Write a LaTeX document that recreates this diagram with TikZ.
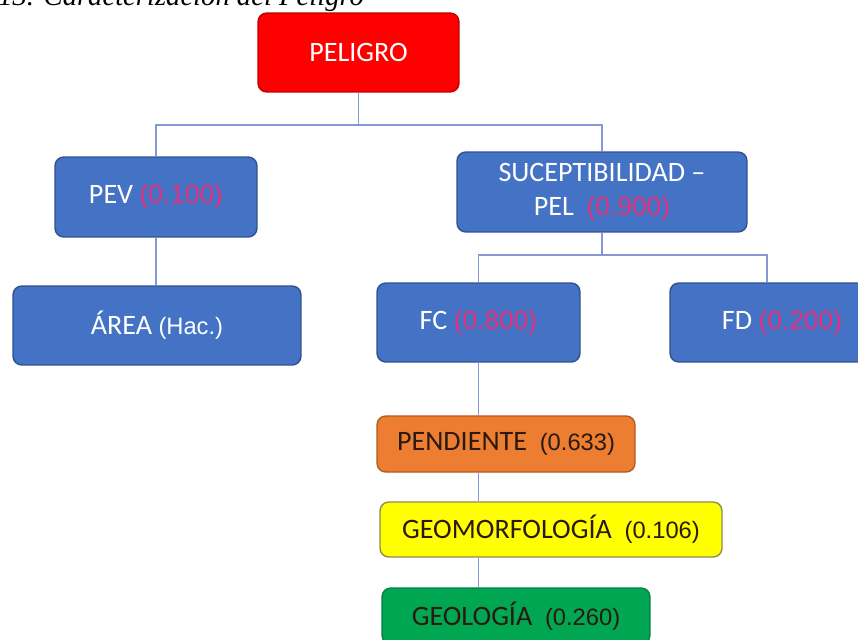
\documentclass[tikz,border=0pt]{standalone}
\usepackage{fontspec}
\setmainfont{Carlito}
\newfontfamily\numfont{Liberation Sans}
\newfontfamily\capfont{Liberation Serif}
\usetikzlibrary{calc}
\usepackage{xcolor}
\definecolor{rojo}{HTML}{FF0000}
\definecolor{rojoborde}{HTML}{C00000}
\definecolor{azul}{HTML}{4472C4}
\definecolor{azulborde}{HTML}{2F528F}
\definecolor{naranja}{HTML}{ED7D31}
\definecolor{naranjaborde}{HTML}{AE5A21}
\definecolor{amarillo}{HTML}{FFFF00}
\definecolor{amarilloborde}{HTML}{8C8C50}
\definecolor{verde}{HTML}{00A651}
\definecolor{verdeborde}{HTML}{00804A}
\definecolor{rosa}{HTML}{E0307A}
\definecolor{enlace}{HTML}{8497D6}
\definecolor{oscuro}{HTML}{2A1A10}
\newcommand{\peso}[1]{{\numfont\fontsize{15}{18}\selectfont\color{rosa}#1}}
\newcommand{\valor}[1]{{\numfont\fontsize{13.5}{16}\selectfont#1}}
\tikzset{
  caja/.style={rounded corners=5pt,inner sep=0pt,align=center,line width=0.8pt,
    font=\fontsize{16}{19}\selectfont},
  cajaazul/.style={caja,draw=azulborde,fill=azul,text=white},
  enlace/.style={draw=enlace,line width=1pt}
}
\begin{document}
\begin{tikzpicture}[x=0.02cm,y=-0.02cm]
\useasboundingbox (0,0) rectangle (858,639);
\fill[white] (0,0) rectangle (858,639);
\node[anchor=base west,inner sep=0pt,font=\capfont\itshape\fontsize{16.3}{19}\selectfont] (titulo) at (-2,6) {13. Caracterización del Peligro};
% nivel 1
\node[caja,draw=rojoborde,fill=rojo,text=white,minimum width=4.02cm,minimum height=1.58cm] (peligro) at (358.5,52.5) {PELIGRO};
% nivel 2
\node[cajaazul,minimum width=4.04cm,minimum height=1.6cm] (pev) at (156,197) {PEV \peso{(0.100)}};
\node[cajaazul,minimum width=5.8cm,minimum height=1.6cm] (susc) at (602,192) {SUCEPTIBILIDAD --\\PEL\ \ \peso{(0.900)}};
% nivel 3
\node[cajaazul,minimum width=5.76cm,minimum height=1.58cm] (area) at (157,325.5) {ÁREA \valor{(Hac.)}};
\node[cajaazul,minimum width=4.06cm,minimum height=1.58cm] (fc) at (478.5,322.5) {FC \peso{(0.800)}};
\node[cajaazul,minimum width=4.48cm,minimum height=1.58cm] (fd) at (782,322.5) {FD \peso{(0.200)}};
% descriptores
\node[caja,draw=naranjaborde,fill=naranja,text=oscuro,minimum width=5.16cm,minimum height=1.12cm] (pend) at (506,444) {PENDIENTE\ \ \valor{(0.633)}};
\node[caja,draw=amarilloborde,fill=amarillo,text=oscuro,minimum width=6.84cm,minimum height=1.1cm] (geom) at (551,529.5) {GEOMORFOLOGÍA\ \ \valor{(0.106)}};
\node[caja,draw=verdeborde,fill=verde,text=oscuro,minimum width=5.36cm,minimum height=1.12cm] (geol) at (516,616) {GEOLOGÍA\ \ \valor{(0.260)}};
% conectores
\draw[enlace] (peligro.south) -- ++(0,32) -| (pev.north);
\draw[enlace] (peligro.south) -- ++(0,32) -| (susc.north);
\draw[enlace] (pev.south) -- (pev.south |- area.north);
\draw[enlace] (susc.south) -- ++(0,22) -| (fc.north);
\draw[enlace] (susc.south) -- ++(0,22) -| ($(fd.north)+(-15,0)$);
\draw[enlace] (fc.south) -- (fc.south |- pend.north);
\draw[enlace] (fc.south |- pend.south) -- (fc.south |- geom.north);
\draw[enlace] (fc.south |- geom.south) -- (fc.south |- geol.north);
\end{tikzpicture}
\end{document}
